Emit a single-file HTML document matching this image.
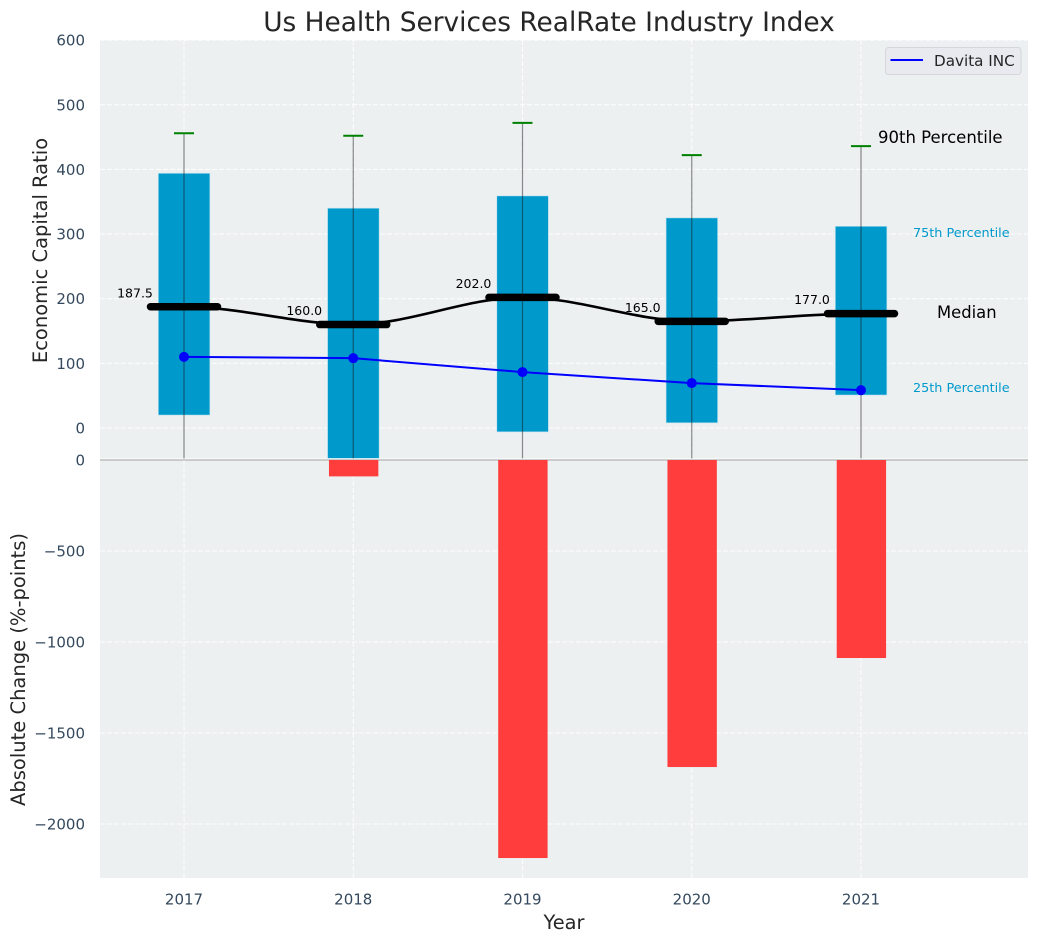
<!DOCTYPE html>
<html lang="en">
<head>
<meta charset="utf-8">
<title>Us Health Services RealRate Industry Index</title>
<style>
html,body{margin:0;padding:0;background:#fff;width:1039px;height:942px;overflow:hidden}
svg{display:block;font-family:"DejaVu Sans","Liberation Sans",sans-serif}
</style>
</head>
<body>
<svg id="chart" xmlns="http://www.w3.org/2000/svg" width="1039" height="942" viewBox="0 0 1039 942">
<rect x="100" y="40" width="928" height="838" fill="#ecf0f1"/>
<defs>
<clipPath id="top-clip"><rect x="100" y="40" width="928" height="418.4"/></clipPath>
</defs>
<g id="grid"></g>
<g id="marks"></g>
<g id="labels"></g>
<text x="549" y="31" text-anchor="middle" font-size="26.4" fill="#262626">Us Health Services RealRate Industry Index</text>
<text x="564" y="929" text-anchor="middle" font-size="19.4" fill="#262626">Year</text>
<text transform="translate(47,250.5) rotate(-90)" text-anchor="middle" font-size="19.5" fill="#262626">Economic Capital Ratio</text>
<text transform="translate(25,669.5) rotate(-90)" text-anchor="middle" font-size="19.5" fill="#262626">Absolute Change (%-points)</text>
<g>
<rect x="885.5" y="47.5" width="135.5" height="27" rx="3" fill="#e9eaf0" stroke="#d4d6db" stroke-width="1"/>
<line x1="890.5" y1="60" x2="923" y2="60" stroke="#0000ff" stroke-width="2"/>
<text x="934" y="66" font-size="15.2" fill="#262626">Davita INC</text>
</g>
<text x="878" y="143" font-size="16.5" fill="#000">90th Percentile</text>
<text x="913" y="237" font-size="12.8" fill="#0099cc">75th Percentile</text>
<text x="937" y="318" font-size="16.4" fill="#000">Median</text>
<text x="913" y="392" font-size="12.8" fill="#0099cc">25th Percentile</text>
</svg>
<script>
const years = [2017, 2018, 2019, 2020, 2021];
const p90 = [456, 452, 472, 422, 436];
const p75 = [394, 340, 359, 325, 312];
const median = [187.5, 160, 202, 165, 177];
const p25 = [20, -47, -6, 8, 51];
const davita = [110, 108, 86.5, 69.5, 58.5];
const absChange = [0, -90, -2187, -1687, -1088];
const topTicks = [0, 100, 200, 300, 400, 500, 600];
const bottomTicks = [0, -500, -1000, -1500, -2000];

const NS = 'http://www.w3.org/2000/svg';
const X = v => 184 + (v - 2017) * 169.25;
const YT = v => 428 - v * 0.6465;
const YB = v => 460 + v * -0.182;
const grid = document.getElementById('grid');
const marks = document.getElementById('marks');
const labels = document.getElementById('labels');
function make(tag, parent, attrs, text) {
  const el = document.createElementNS(NS, tag);
  for (const k in attrs) el.setAttribute(k, attrs[k]);
  if (text !== undefined) el.textContent = text;
  parent.appendChild(el);
  return el;
}
const gridStyle = {stroke: '#ffffff', 'stroke-width': 1, 'stroke-dasharray': '5 2', opacity: 0.9};

years.forEach(y => {
  const el = make('line', grid, Object.assign({x1: X(y), x2: X(y), y1: 40, y2: 878}, gridStyle));
  
  
  const t = make('text', labels, {x: X(y), y: 904.5, 'text-anchor': 'middle', 'font-size': 15, fill: '#34495e'}, String(y));
  
  
});
topTicks.forEach(v => {
  const el = make('line', grid, Object.assign({x1: 100, x2: 1028, y1: YT(v), y2: YT(v)}, gridStyle));
  
  
  const t = make('text', labels, {x: 85, y: YT(v) + 5.5, 'text-anchor': 'end', 'font-size': 15, fill: '#34495e'}, String(v));
  
  
});
bottomTicks.forEach(v => {
  const el = make('line', grid, Object.assign({x1: 100, x2: 1028, y1: YB(v), y2: YB(v)}, gridStyle));
  
  
  const t = make('text', labels, {x: 85, y: YB(v) + 5.5, 'text-anchor': 'end', 'font-size': 15, fill: '#34495e'}, String(v).replace('-', '\u2212'));
  
  
});

const sep = make('line', marks, {x1: 100, x2: 1028, y1: 458.9, y2: 458.9, stroke: '#ffffff', 'stroke-width': 1});


const zero = make('line', marks, {x1: 100, x2: 1028, y1: YB(0), y2: YB(0), stroke: '#bdbdbd', 'stroke-width': 1.4});



const topGroup = make('g', marks, {'clip-path': 'url(#top-clip)'});



const barHalf = 0.15;
years.forEach((y, i) => {
  const left = X(y - barHalf);
  const right = X(y + barHalf);
  const b = make('rect', topGroup, {x: left - 0.3, y: YT(p75[i]), width: right - left + 0.8, height: YT(p25[i]) - YT(p75[i]), fill: '#0099cc', stroke: '#bfe3ef', 'stroke-width': 0.6});
  
  
  if (absChange[i] !== 0) {
    const r = make('rect', marks, {x: left + 1.1, y: YB(0), width: right - left - 1.4, height: YB(absChange[i]) - YB(0), fill: '#ff3d3d'});
    
    
  }
});

years.forEach((y, i) => {
  const w = make('line', topGroup, {x1: X(y), x2: X(y), y1: YT(p90[i]), y2: 470, stroke: '#1a1a1a', 'stroke-opacity': 0.5, 'stroke-width': 1.2});
  
  
  const c = make('line', topGroup, {x1: X(y) - 10, x2: X(y) + 10, y1: YT(p90[i]), y2: YT(p90[i]), stroke: '#008000', 'stroke-width': 2});
  
  
});

let d = 'M' + X(years[0]) + ' ' + YT(median[0]);
for (let i = 1; i < years.length; i++) {
  const x0 = X(years[i - 1]), x1 = X(years[i]);
  const c = (x1 - x0) * 0.33;
  d += ' C' + (x0 + c) + ' ' + YT(median[i - 1]) + ' ' + (x1 - c) + ' ' + YT(median[i]) + ' ' + x1 + ' ' + YT(median[i]);
}
const medLine = make('path', marks, {d: d, fill: 'none', stroke: '#000', 'stroke-width': 2.6});



years.forEach((y, i) => {
  const m = make('line', marks, {x1: X(y) - 33.5, x2: X(y) + 33.5, y1: YT(median[i]), y2: YT(median[i]), stroke: '#000', 'stroke-width': 7.5, 'stroke-linecap': 'round'});
  
  
  const t = make('text', marks, {x: X(y) - 49, y: YT(median[i]) - 9.5, 'text-anchor': 'middle', 'font-size': 12.5, fill: '#000'}, median[i].toFixed(1));
  
  
});

const pts = years.map((y, i) => X(y) + ',' + YT(davita[i])).join(' ');
const dl = make('polyline', marks, {points: pts, fill: 'none', stroke: '#0000ff', 'stroke-width': 2});


years.forEach((y, i) => {
  const p = make('circle', marks, {cx: X(y), cy: YT(davita[i]), r: 5, fill: '#0000ff'});
  
  
});
</script>
</body>
</html>
